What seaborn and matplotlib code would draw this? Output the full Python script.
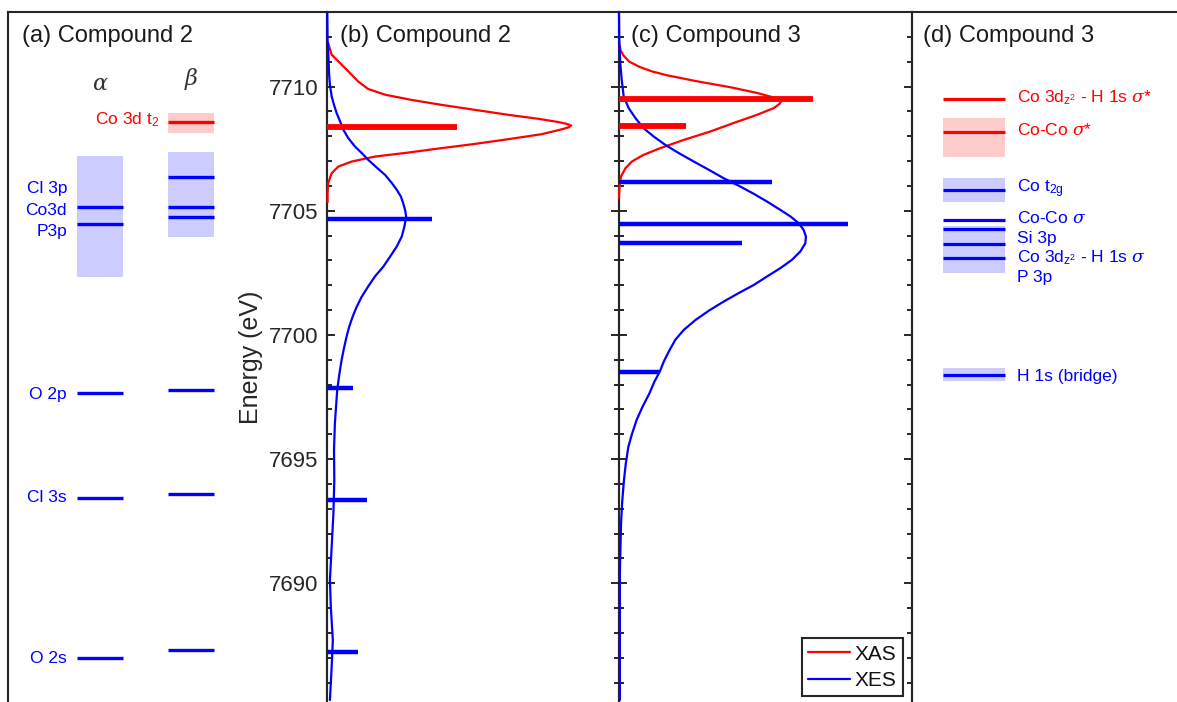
import matplotlib
matplotlib.use('Agg')
import matplotlib.pyplot as plt
import seaborn as sns
from matplotlib.ticker import MultipleLocator, NullLocator

# ---------------- data (energies in eV, intensities in arb. units) ----------------
# (a) Compound 2 - MO energy levels
a_alpha_occ = [7705.14, 7704.46, 7697.68, 7693.45, 7686.98]
a_beta_occ = [7706.35, 7705.14, 7704.76, 7697.79, 7693.61, 7687.31]
a_beta_unocc = [7708.59]
a_alpha_band = [7702.35, 7707.22]
a_beta_band = [7703.96, 7707.38]
a_beta_unocc_band = [7708.12, 7708.95]
a_labels = ['Cl 3p', 'Co3d', 'P3p', 'O 2p', 'Cl 3s', 'O 2s']
a_unocc_label = 'Co 3d t$_2$'
spin_labels = [r'$\alpha$', r'$\beta$']

# (b) Compound 2 - spectra
b_xas_E = [7711.75, 7711.28, 7710.94, 7710.54, 7710.20, 7709.90, 7709.67, 7709.46,
           7709.26, 7709.06, 7708.86, 7708.70, 7708.57, 7708.50, 7708.43, 7708.36,
           7708.28, 7708.08, 7707.88, 7707.69, 7707.52, 7707.34, 7707.18, 7706.98,
           7706.78, 7706.51, 7706.11, 7705.71, 7705.35]
b_xas_I = [0.004, 0.016, 0.045, 0.079, 0.107, 0.141, 0.199, 0.290,
           0.393, 0.507, 0.621, 0.724, 0.792, 0.820, 0.836, 0.828,
           0.805, 0.735, 0.621, 0.507, 0.393, 0.278, 0.164, 0.085,
           0.039, 0.016, 0.004, 0.002, 0.002]
b_xes_E = [7712.96, 7711.88, 7711.21, 7710.54, 7710.07, 7709.60, 7709.26, 7708.93,
           7708.59, 7708.26, 7707.92, 7707.58, 7707.32, 7707.05, 7706.74, 7706.44,
           7706.13, 7705.84, 7705.57, 7705.30, 7705.00, 7704.76, 7704.36, 7703.96,
           7703.56, 7703.15, 7702.75, 7702.35, 7701.95, 7701.54, 7701.14, 7700.74,
           7700.33, 7699.93, 7699.46, 7698.99, 7698.40, 7697.78, 7696.44, 7695.37,
           7694.16, 7692.82, 7691.47, 7690.13, 7689.06, 7687.71, 7686.64, 7685.30]
b_xes_I = [0.001, 0.002, 0.005, 0.007, 0.010, 0.016, 0.024, 0.033,
           0.045, 0.056, 0.073, 0.096, 0.119, 0.141, 0.170, 0.199,
           0.221, 0.239, 0.253, 0.261, 0.268, 0.271, 0.265, 0.256,
           0.239, 0.216, 0.193, 0.164, 0.141, 0.119, 0.102, 0.088,
           0.076, 0.067, 0.058, 0.050, 0.042, 0.035, 0.027, 0.024,
           0.025, 0.022, 0.016, 0.010, 0.013, 0.020, 0.016, 0.010]
b_xas_stick_E = [7708.39]
b_xas_stick_I = [0.444]
b_xes_stick_E = [7704.67, 7697.88, 7693.35, 7687.24]
b_xes_stick_I = [0.358, 0.088, 0.137, 0.107]

# (c) Compound 3 - spectra
c_xas_E = [7711.65, 7711.45, 7711.25, 7711.00, 7710.78, 7710.60, 7710.45, 7710.22,
           7709.96, 7709.73, 7709.55, 7709.45, 7709.38, 7709.30, 7709.13, 7708.86,
           7708.53, 7708.19, 7707.85, 7707.52, 7707.25, 7706.98, 7706.71, 7706.38,
           7706.04, 7705.50]
c_xas_I = [0.002, 0.006, 0.015, 0.035, 0.072, 0.115, 0.165, 0.262,
           0.385, 0.475, 0.530, 0.545, 0.552, 0.548, 0.528, 0.471,
           0.391, 0.312, 0.221, 0.141, 0.084, 0.044, 0.022, 0.007,
           0.002, 0.000]
c_xes_E = [7712.96, 7711.88, 7711.00, 7710.30, 7709.60, 7709.13, 7708.73, 7708.32,
           7707.99, 7707.65, 7707.32, 7706.98, 7706.65, 7706.31, 7706.01, 7705.68,
           7705.37, 7705.03, 7704.77, 7704.50, 7704.23, 7703.96, 7703.69, 7703.36,
           7703.02, 7702.69, 7702.35, 7702.01, 7701.68, 7701.34, 7700.97, 7700.60,
           7700.20, 7699.80, 7699.33, 7698.93, 7698.52, 7698.12, 7697.65, 7697.10,
           7696.57, 7696.00, 7695.50, 7694.80, 7694.16, 7693.30, 7692.42, 7690.40,
           7688.39, 7685.30]
c_xes_I = [0.000, 0.001, 0.004, 0.009, 0.016, 0.033, 0.056, 0.084,
           0.118, 0.158, 0.204, 0.255, 0.306, 0.357, 0.408, 0.460,
           0.505, 0.551, 0.585, 0.613, 0.630, 0.638, 0.636, 0.619,
           0.590, 0.551, 0.505, 0.460, 0.408, 0.357, 0.306, 0.261,
           0.221, 0.192, 0.170, 0.153, 0.139, 0.121, 0.104, 0.080,
           0.060, 0.044, 0.032, 0.023, 0.017, 0.011, 0.007, 0.003,
           0.003, 0.003]
c_xas_stick_E = [7709.49, 7708.42]
c_xas_stick_I = [0.663, 0.229]
c_xes_stick_E = [7706.17, 7704.46, 7703.69, 7698.50]
c_xes_stick_I = [0.521, 0.780, 0.420, 0.137]
legend_labels = ['XAS', 'XES']

# (d) Compound 3 - MO energy levels
d_unocc = [7709.49, 7708.16]
d_unocc_band = [7707.18, 7708.73]
d_occ = [7705.84, 7704.63, 7704.26, 7703.65, 7703.09, 7698.39]
d_t2g_band = [7705.37, 7706.31]
d_mid_band = [7702.51, 7704.40]
d_h_band = [7698.15, 7698.66]
d_red_labels = [r'Co 3d$_{\mathrm{z}^{2}}$ - H 1s $\sigma$*', r'Co-Co $\sigma$*']
d_blue_labels = [r'Co t$_{\mathrm{2g}}$', r'Co-Co $\sigma$', 'Si 3p',
                 r'Co 3d$_{\mathrm{z}^{2}}$ - H 1s $\sigma$', 'P 3p', 'H 1s (bridge)']

titles = ['(a) Compound 2', '(b) Compound 2', '(c) Compound 3', '(d) Compound 3']
ylabel = 'Energy (eV)'
ylim = (7685.2, 7713)

# ---------------- style ----------------
sns.set_theme(style='white')
plt.rcParams['font.family'] = ['Liberation Sans', 'DejaVu Sans']
plt.rcParams['mathtext.fontset'] = 'custom'
plt.rcParams['mathtext.rm'] = 'Liberation Sans'
plt.rcParams['mathtext.it'] = 'DejaVu Serif:italic'
plt.rcParams['mathtext.bf'] = 'Liberation Sans:bold'
plt.rcParams['axes.linewidth'] = 1.5

RED = '#FF0000'
BLUE = '#0000FF'
RED_BAND = '#FFCCCC'
BLUE_BAND = '#CCCCFF'
FRAME = '#262626'

W, H = 1177.0, 702.0
fig = plt.figure(figsize=(W / 100, H / 100), dpi=100)


def fax(x0, x1, y0=12.0, y1=702.5):
    return [x0 / W, 1 - y1 / H, (x1 - x0) / W, (y1 - y0) / H]


ax_a = fig.add_axes(fax(8, 327))
ax_b = fig.add_axes(fax(327, 619))
ax_c = fig.add_axes(fax(619, 912))
ax_d = fig.add_axes(fax(912, 1206))

for ax in (ax_a, ax_b, ax_c, ax_d):
    ax.set_xlim(0, 1)
    ax.set_ylim(*ylim)
    ax.set_facecolor('none')
    for s in ax.spines.values():
        s.set_color(FRAME)
        s.set_linewidth(1.5)
    ax.spines['bottom'].set_visible(False)
    ax.xaxis.set_major_locator(NullLocator())

for ax in (ax_a, ax_d):
    ax.yaxis.set_major_locator(NullLocator())
    ax.spines['right'].set_visible(ax is ax_a)

# ---------------- (a) ----------------
ca = (0.216, 0.361)   # alpha column
cb = (0.502, 0.646)   # beta column
ax_a.fill_betweenx(a_alpha_band, ca[0], ca[1], color=BLUE_BAND, lw=0, zorder=1)
ax_a.fill_betweenx(a_beta_band, cb[0], cb[1], color=BLUE_BAND, lw=0, zorder=1)
ax_a.fill_betweenx(a_beta_unocc_band, cb[0], cb[1], color=RED_BAND, lw=0, zorder=1)
ax_a.hlines(a_alpha_occ, ca[0], ca[1], color=BLUE, lw=2.4, zorder=2)
ax_a.hlines(a_beta_occ, cb[0], cb[1], color=BLUE, lw=2.4, zorder=2)
ax_a.hlines(a_beta_unocc, cb[0], cb[1], color=RED, lw=2.4, zorder=2)
a_label_y = [7705.73, 7704.83, 7703.99, 7697.42, 7693.26, 7686.80]
for lab, yy in zip(a_labels, a_label_y):
    ax_a.text(0.185, yy, lab, color=BLUE, fontsize=12.5, ha='right', va='baseline')
ax_a.text(0.474, 7708.49, a_unocc_label, color=RED, fontsize=12.5, ha='right', va='baseline')
ax_a.text(sum(ca) / 2, 7710.07, spin_labels[0], color='#333333', fontsize=16,
          ha='center', va='center')
ax_a.text(sum(cb) / 2, 7710.32, spin_labels[1], color='#333333', fontsize=16,
          ha='center', va='center')

# ---------------- (b), (c) spectra ----------------
def spectrum(ax, xas_E, xas_I, xes_E, xes_I, s_xas_E, s_xas_I, s_xes_E, s_xes_I, lab):
    sns.lineplot(x=xas_I, y=xas_E, ax=ax, color=RED, lw=1.6, sort=False, estimator=None,
                 orient='y', zorder=3, clip_on=False, solid_joinstyle='round',
                 label=legend_labels[0] if lab else None)
    sns.lineplot(x=xes_I, y=xes_E, ax=ax, color=BLUE, lw=1.6, sort=False, estimator=None,
                 orient='y', zorder=3, clip_on=False, solid_joinstyle='round',
                 label=legend_labels[1] if lab else None)
    ax.hlines(s_xes_E, 0, s_xes_I, color=BLUE, lw=3.2, zorder=4, clip_on=False)
    ax.hlines(s_xas_E, 0, s_xas_I, color=RED, lw=4.2, zorder=4, clip_on=False)
    ax.set_xlim(0, 1)
    ax.set_ylim(*ylim)
    ax.set_xlabel('')
    ax.set_ylabel('')
    ax.yaxis.set_major_locator(MultipleLocator(5))
    ax.yaxis.set_minor_locator(MultipleLocator(1))
    ax.tick_params(axis='y', which='both', direction='in', left=True, right=True,
                   labelright=False, color=FRAME, width=1.4)
    ax.tick_params(axis='y', which='major', length=6)
    ax.tick_params(axis='y', which='minor', length=3.5)


spectrum(ax_b, b_xas_E, b_xas_I, b_xes_E, b_xes_I,
         b_xas_stick_E, b_xas_stick_I, b_xes_stick_E, b_xes_stick_I, False)
spectrum(ax_c, c_xas_E, c_xas_I, c_xes_E, c_xes_I,
         c_xas_stick_E, c_xas_stick_I, c_xes_stick_E, c_xes_stick_I, True)

ax_b.tick_params(axis='y', labelleft=True, labelsize=16, labelcolor=FRAME, pad=6)
ax_c.tick_params(axis='y', labelleft=False)
ax_b.set_ylabel(ylabel, fontsize=18, color=FRAME, labelpad=4)

leg = ax_c.legend(loc='lower right', bbox_to_anchor=(0.969, 0.009), borderaxespad=0,
                  fontsize=15, frameon=True, fancybox=False, framealpha=1,
                  edgecolor=FRAME, handlelength=2.0, handletextpad=0.25,
                  borderpad=0.3, labelspacing=0.35)
leg.get_frame().set_linewidth(1.5)
for t in leg.get_texts():
    t.set_color('#111111')

# ---------------- (d) ----------------
cd = (0.104, 0.316)
ax_d.fill_betweenx(d_unocc_band, cd[0], cd[1], color=RED_BAND, lw=0, zorder=1)
ax_d.fill_betweenx(d_t2g_band, cd[0], cd[1], color=BLUE_BAND, lw=0, zorder=1)
ax_d.fill_betweenx(d_mid_band, cd[0], cd[1], color=BLUE_BAND, lw=0, zorder=1)
ax_d.fill_betweenx(d_h_band, cd[0], cd[1], color=BLUE_BAND, lw=0, zorder=1)
ax_d.hlines(d_unocc, cd[0], cd[1], color=RED, lw=2.3, zorder=2)
ax_d.hlines(d_occ, cd[0], cd[1], color=BLUE, lw=2.3, zorder=2)
d_red_y = [7709.37, 7708.05]
d_blue_y = [7705.75, 7704.50, 7703.69, 7702.93, 7702.12, 7698.16]
for lab, yy in zip(d_red_labels, d_red_y):
    ax_d.text(0.356, yy, lab, color=RED, fontsize=12.5, ha='left', va='baseline')
for lab, yy in zip(d_blue_labels, d_blue_y):
    ax_d.text(0.356, yy, lab, color=BLUE, fontsize=12.5, ha='left', va='baseline')

# ---------------- titles ----------------
title_x = {ax_a: 0.044, ax_b: 0.045, ax_c: 0.040, ax_d: 0.037}
ty = (702.5 - 41.7) / (702.5 - 12.0)
for ax, ttl in zip((ax_a, ax_b, ax_c, ax_d), titles):
    ax.text(title_x[ax], ty, ttl, transform=ax.transAxes, fontsize=17,
            color='#1a1a1a', ha='left', va='baseline', zorder=6)

fig.savefig('out.png', dpi=100)
